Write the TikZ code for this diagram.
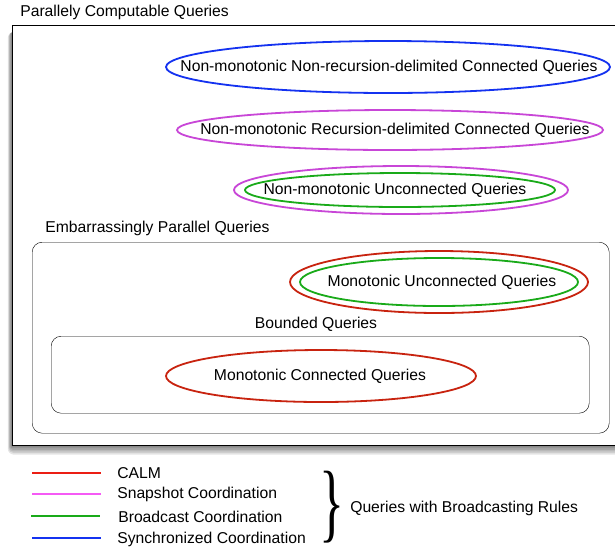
\documentclass[tikz,border=0pt]{standalone}
\usepackage{fontspec}
\setmainfont{Liberation Sans}
\newfontfamily\bracefont{Liberation Serif}
\usepackage{tikz}
\usetikzlibrary{positioning}

\definecolor{calm}{RGB}{200,35,15}
\definecolor{snap}{RGB}{200,70,215}
\definecolor{bcast}{RGB}{25,170,25}
\definecolor{sync}{RGB}{20,50,240}
\definecolor{calmkey}{RGB}{235,30,20}
\definecolor{snapkey}{RGB}{245,90,245}

\begin{document}
\begin{tikzpicture}[x=1pt,y=-1pt,semithick,font=\fontsize{15.7}{18}\selectfont]
  \tikzstyle{cls}=[line width=1.8pt]
  \tikzstyle{area}=[draw=black,thin,rounded corners=10pt,inner sep=0pt]
  \tikzstyle{title}=[anchor=west,inner sep=0pt]
  \tikzstyle{key}=[line width=1.8pt]

  \useasboundingbox (0,0) rectangle (615,550);

  % outer box with a soft shadow
  \foreach \s in {1,...,6}
    \fill[black,opacity=0.1,rounded corners=\s pt] (12-0.7*\s,32) rectangle (640,445+1.6*\s);
  \node[draw=black,line width=1pt,fill=white,
        minimum width=620pt,minimum height=420pt,inner sep=0pt,anchor=north west] (pc) at (12,25) {};
  \node[title] (pct) at (20,12) {Parallely Computable Queries};

  % non-monotonic classes
  \node (nnr) at (389,67) {Non-monotonic Non-recursion-delimited Connected Queries};
  \draw[cls,sync] (388,67) ellipse [x radius=222,y radius=26];
  \node (nrd) at (395,130) {Non-monotonic Recursion-delimited Connected Queries};
  \draw[cls,snap] (390,130) ellipse [x radius=213,y radius=20];
  \node (nu) at (395,190) {Non-monotonic Unconnected Queries};
  \draw[cls,snap] (401,190) ellipse [x radius=167,y radius=24];
  \draw[cls,bcast] (400,190) ellipse [x radius=155,y radius=17];

  % embarrassingly parallel
  \node[area,minimum width=577pt,minimum height=191pt,anchor=north west] (ep) at (32,242) {};
  \node[title] (ept) at (45,228) {Embarrassingly Parallel Queries};
  \node (mu) at (442,282) {Monotonic Unconnected Queries};
  \draw[cls,calm] (439,282) ellipse [x radius=149,y radius=31];
  \draw[cls,bcast] (439,282) ellipse [x radius=139,y radius=24];

  % bounded
  \node[area,minimum width=538pt,minimum height=77pt,anchor=north west] (bq) at (51,336) {};
  \node (bqt) at (316,324) {Bounded Queries};
  \node (mc) at (320,376) {Monotonic Connected Queries};
  \draw[cls,calm] (321,376) ellipse [x radius=155,y radius=26];

  % legend
  \coordinate (k1) at (32,473);
  \coordinate (k2) at (32,494);
  \coordinate (k3) at (31,516);
  \coordinate (k4) at (32,538);
  \draw[key,calmkey] (k1) -- ++(69,0);
  \draw[key,snapkey] (k2) -- ++(69,0);
  \draw[key,bcast] (k3) -- ++(69,0);
  \draw[key,sync] (k4) -- ++(69,0);
  \node[title] (c1) at (117,473) {CALM};
  \node[title] (c2) at (117,494) {Snapshot Coordination};
  \node[title] (c3) at (118,517) {Broadcast Coordination};
  \node[title] (c4) at (117,539) {Synchronized Coordination};

  \node[inner sep=0pt] (br) at (332,507) {\bracefont\fontsize{87}{87}\selectfont\scalebox{0.6}[1]{\}}};
  \node[title] (qb) at (350,508) {Queries with Broadcasting Rules};
\end{tikzpicture}
\end{document}
